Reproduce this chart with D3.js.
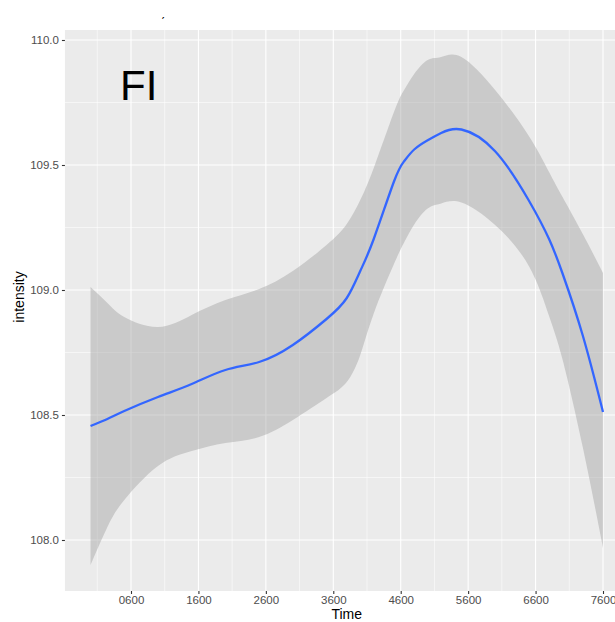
<!DOCTYPE html>
<html>
<head>
<meta charset="utf-8">
<script src="https://cdn.jsdelivr.net/npm/d3@7"></script>
<style>
  body { margin: 0; background: #fff; }
  svg { display: block; font-family: "Liberation Sans", Arial, sans-serif; }
</style>
</head>
<body>
<div id="viz"></div>
<script>
// smoothed fit (loess) and its confidence band
var times = [0, 250, 500, 1000, 1500, 2000, 2500, 3000, 3500, 3800, 4000, 4200, 4500, 4650, 4800, 5000, 5200, 5500, 6000, 6500, 6800, 7000, 7300, 7600];
var fit   = [108.456, 108.484, 108.516, 108.572, 108.624, 108.68, 108.712, 108.78, 108.884, 108.968, 109.076, 109.204, 109.434, 109.515, 109.562, 109.599, 109.628, 109.642, 109.555, 109.358, 109.204, 109.066, 108.818, 108.512];
var upper = [109.012, 108.948, 108.892, 108.852, 108.9, 108.96, 109.004, 109.076, 109.18, 109.264, 109.36, 109.488, 109.712, 109.8, 109.864, 109.92, 109.932, 109.932, 109.8, 109.616, 109.472, 109.372, 109.224, 109.068];
var lower = [107.9, 108.052, 108.16, 108.296, 108.356, 108.388, 108.412, 108.48, 108.568, 108.632, 108.74, 108.906, 109.104, 109.19, 109.262, 109.326, 109.346, 109.35, 109.26, 109.096, 108.896, 108.722, 108.372, 107.968];

var xTicks = [600, 1600, 2600, 3600, 4600, 5600, 6600, 7600];
var xTickLabels = ['0600', '1600', '2600', '3600', '4600', '5600', '6600', '7600'];
var yTicks = [108, 108.5, 109, 109.5, 110];

var width = 615, height = 622;

var x = d3.scaleLinear().domain([600, 7600]).range([131, 603]);
var y = d3.scaleLinear().domain([108, 110]).range([540, 40]);

var panel = { left: x(-380), right: x(7980), top: 30, bottom: 591 };

var svg = d3.select('#viz').append('svg')
    .attr('width', width)
    .attr('height', height);

svg.append('rect')
    .attr('x', panel.left)
    .attr('y', panel.top)
    .attr('width', panel.right - panel.left)
    .attr('height', panel.bottom - panel.top)
    .attr('fill', '#EBEBEB');

// minor grid
var xMinor = xTicks.map(function(d){ return d - 500; }).concat([8100]);
var yMinor = [107.75, 108.25, 108.75, 109.25, 109.75];

svg.selectAll('.xminor').data(xMinor).enter().append('line')
    .attr('x1', function(d){ return x(d); })
    .attr('x2', function(d){ return x(d); })
    .attr('y1', panel.top).attr('y2', panel.bottom)
    .attr('stroke', '#fff').attr('stroke-width', 0.55);

svg.selectAll('.yminor').data(yMinor).enter().append('line')
    .attr('x1', panel.left).attr('x2', panel.right)
    .attr('y1', function(d){ return y(d); })
    .attr('y2', function(d){ return y(d); })
    .attr('stroke', '#fff').attr('stroke-width', 0.55);

// major grid
svg.selectAll('.xmajor').data(xTicks).enter().append('line')
    .attr('x1', function(d){ return x(d); })
    .attr('x2', function(d){ return x(d); })
    .attr('y1', panel.top).attr('y2', panel.bottom)
    .attr('stroke', '#fff').attr('stroke-width', 1.1);

svg.selectAll('.ymajor').data(yTicks).enter().append('line')
    .attr('x1', panel.left).attr('x2', panel.right)
    .attr('y1', function(d){ return y(d); })
    .attr('y2', function(d){ return y(d); })
    .attr('stroke', '#fff').attr('stroke-width', 1.1);

// confidence ribbon
var band = times.map(function(t, i){ return { t: t, lo: lower[i], hi: upper[i], f: fit[i] }; });

var area = d3.area()
    .x(function(d){ return x(d.t); })
    .y0(function(d){ return y(d.lo); })
    .y1(function(d){ return y(d.hi); })
    .curve(d3.curveNatural);

svg.append('path')
    .datum(band)
    .attr('d', area)
    .attr('fill', '#999999')
    .attr('fill-opacity', 0.4);

var line = d3.line()
    .x(function(d){ return x(d.t); })
    .y(function(d){ return y(d.f); })
    .curve(d3.curveNatural);

svg.append('path')
    .datum(band)
    .attr('d', line)
    .attr('fill', 'none')
    .attr('stroke', '#3366FF')
    .attr('stroke-width', 2.3);

// axes
var xAxis = svg.append('g')
    .attr('transform', 'translate(0,' + panel.bottom + ')')
    .call(d3.axisBottom(x).tickValues(xTicks)
        .tickFormat(function(d, i){ return xTickLabels[i]; })
        .tickSize(3).tickPadding(2));

var yAxis = svg.append('g')
    .attr('transform', 'translate(' + panel.left + ',0)')
    .call(d3.axisLeft(y).tickValues(yTicks)
        .tickFormat(d3.format('.1f'))
        .tickSize(3).tickPadding(3));

[xAxis, yAxis].forEach(function(a){
    a.select('.domain').remove();
    a.selectAll('.tick line').attr('stroke', '#333333').attr('stroke-width', 1.1);
    a.selectAll('.tick text')
        .attr('fill', '#4D4D4D')
        .style('font-size', '11.5px')
        .style('font-family', '"Liberation Sans", Arial, sans-serif');
});

svg.append('text')
    .attr('x', (panel.left + panel.right) / 2)
    .attr('y', 619)
    .attr('text-anchor', 'middle')
    .style('font-size', '14px')
    .attr('fill', '#000')
    .text('Time');

svg.append('text')
    .attr('transform', 'translate(24,297) rotate(-90)')
    .attr('text-anchor', 'middle')
    .style('font-size', '14px')
    .attr('fill', '#000')
    .text('intensity');

svg.append('text')
    .attr('x', 120)
    .attr('y', 100)
    .style('font-size', '42px')
    .attr('fill', '#000')
    .text('FI');

svg.append('text')
    .attr('x', 161)
    .attr('y', 27)
    .style('font-size', '12px')
    .attr('fill', '#000')
    .text('ˊ');
</script>
</body>
</html>
